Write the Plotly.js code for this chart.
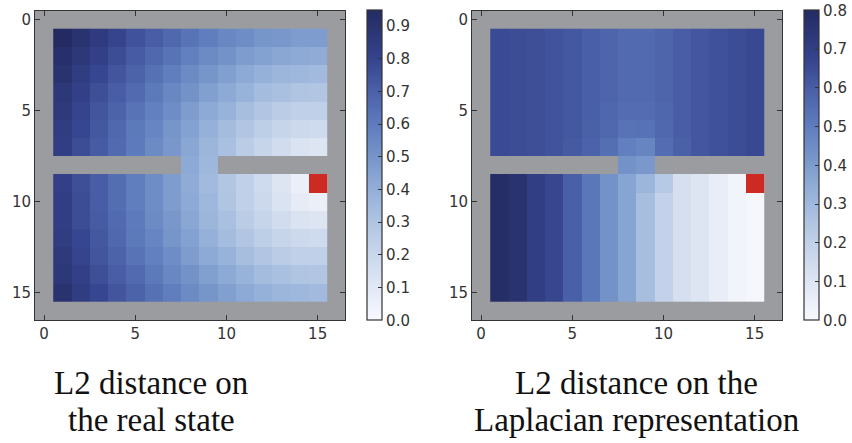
<!DOCTYPE html>
<html>
<head>
<meta charset="utf-8">
<script src="https://cdn.plot.ly/plotly-3.0.1.min.js"></script>
<style>html,body{margin:0;padding:0;background:#fff;}#chart{width:852px;height:443px;}</style>
</head>
<body>
<div id="chart"></div>
<script>
// grid coordinates of the interior cells (rows/cols 1..15); walls are null
const cols = [1,2,3,4,5,6,7,8,9,10,11,12,13,14,15];
const rows = [1,2,3,4,5,6,7,8,9,10,11,12,13,14,15];
const goal = [15, 9]; // [col, row]
const tickVals = [0,5,10,15];

// L2 distance on the real state
const realState = [
  [0.95,0.90,0.85,0.80,0.75,0.71,0.67,0.63,0.59,0.55,0.53,0.50,0.49,0.47,0.47],
  [0.92,0.87,0.82,0.77,0.72,0.67,0.63,0.58,0.54,0.51,0.47,0.45,0.43,0.42,0.41],
  [0.90,0.84,0.79,0.74,0.69,0.64,0.59,0.54,0.50,0.46,0.42,0.39,0.37,0.36,0.35],
  [0.87,0.82,0.76,0.71,0.66,0.61,0.55,0.51,0.46,0.42,0.38,0.34,0.32,0.30,0.29],
  [0.86,0.80,0.74,0.69,0.63,0.58,0.53,0.47,0.42,0.38,0.33,0.29,0.26,0.24,0.24],
  [0.84,0.79,0.73,0.67,0.61,0.56,0.50,0.45,0.39,0.34,0.29,0.25,0.21,0.19,0.18],
  [0.83,0.77,0.72,0.66,0.60,0.54,0.49,0.43,0.37,0.32,0.26,0.21,0.17,0.13,0.12],
  [null,null,null,null,null,null,null,0.42,0.36,null,null,null,null,null,null],
  [0.82,0.76,0.71,0.65,0.59,0.53,0.47,0.41,0.35,0.29,0.24,0.18,0.12,0.06,0.00],
  [0.83,0.77,0.71,0.65,0.59,0.53,0.47,0.42,0.36,0.30,0.24,0.19,0.13,0.08,0.06],
  [0.83,0.77,0.72,0.66,0.60,0.54,0.49,0.43,0.37,0.32,0.26,0.21,0.17,0.13,0.12],
  [0.84,0.79,0.73,0.67,0.61,0.56,0.50,0.45,0.39,0.34,0.29,0.25,0.21,0.19,0.18],
  [0.86,0.80,0.74,0.69,0.63,0.58,0.53,0.47,0.42,0.38,0.33,0.29,0.26,0.24,0.24],
  [0.87,0.82,0.76,0.71,0.66,0.61,0.55,0.51,0.46,0.42,0.38,0.34,0.32,0.30,0.29],
  [0.90,0.84,0.79,0.74,0.69,0.64,0.59,0.54,0.50,0.46,0.42,0.39,0.37,0.36,0.35]
];

// L2 distance on the Laplacian representation
const laplacian = [
  [0.655,0.65,0.64,0.63,0.615,0.595,0.575,0.56,0.56,0.575,0.60,0.62,0.635,0.65,0.66],
  [0.655,0.65,0.64,0.63,0.615,0.595,0.575,0.56,0.56,0.575,0.60,0.62,0.635,0.65,0.66],
  [0.655,0.65,0.64,0.63,0.615,0.595,0.575,0.56,0.56,0.575,0.60,0.62,0.635,0.65,0.66],
  [0.655,0.65,0.64,0.63,0.615,0.595,0.575,0.56,0.56,0.575,0.60,0.62,0.635,0.65,0.66],
  [0.655,0.65,0.64,0.63,0.615,0.595,0.57,0.55,0.55,0.57,0.60,0.62,0.635,0.65,0.66],
  [0.655,0.65,0.64,0.63,0.615,0.59,0.565,0.53,0.535,0.565,0.60,0.62,0.635,0.65,0.66],
  [0.655,0.65,0.64,0.63,0.61,0.585,0.545,0.49,0.475,0.55,0.59,0.62,0.635,0.65,0.66],
  [null,null,null,null,null,null,null,0.43,0.41,null,null,null,null,null,null],
  [0.785,0.76,0.705,0.665,0.595,0.52,0.43,0.37,0.31,0.23,0.13,0.10,0.06,0.025,0.00],
  [0.785,0.76,0.705,0.665,0.595,0.52,0.43,0.37,0.28,0.19,0.13,0.10,0.06,0.025,0.01],
  [0.785,0.76,0.705,0.665,0.595,0.52,0.43,0.37,0.28,0.19,0.13,0.10,0.06,0.025,0.01],
  [0.785,0.76,0.705,0.665,0.595,0.52,0.43,0.37,0.28,0.19,0.13,0.10,0.06,0.025,0.01],
  [0.785,0.76,0.705,0.665,0.595,0.52,0.43,0.37,0.28,0.19,0.13,0.10,0.06,0.025,0.01],
  [0.785,0.76,0.705,0.665,0.595,0.52,0.43,0.37,0.28,0.19,0.13,0.10,0.06,0.025,0.01],
  [0.785,0.76,0.705,0.665,0.595,0.52,0.43,0.37,0.28,0.19,0.13,0.10,0.06,0.025,0.01]
];

const captionLeft = ['L2 distance on', 'the real state'];
const captionRight = ['L2 distance on the', 'Laplacian representation'];

const blues = [
  [0,'#f7f9fe'],[0.1,'#e3e9f5'],[0.2,'#ccd9ed'],[0.32,'#afc4e2'],[0.42,'#93afd8'],
  [0.53,'#7594c9'],[0.63,'#5e7cbd'],[0.74,'#4a60a8'],[0.84,'#36448e'],[1,'#232b62']
];

// goal marker matrix built from goal position
const goalZ = rows.map(r => cols.map(c => (c === goal[0] && r === goal[1]) ? 1 : null));

const W = 852, H = 443;
const plotTop = 10.5, plotBot = 320;
const yDom = [1 - plotBot / H, 1 - plotTop / H];

function cbar(xpx, dt) {
  return {
    x: xpx / W, xanchor: 'left', xpad: 0,
    y: 1 - (plotTop + plotBot) / 2 / H, yanchor: 'middle', ypad: 0,
    len: (plotBot - plotTop) / H, lenmode: 'fraction',
    thickness: 15, thicknessmode: 'pixels',
    outlinewidth: 1.2, outlinecolor: '#333',
    ticks: 'inside', ticklen: 4, tickwidth: 1, tickcolor: '#333',
    tick0: 0, dtick: dt, tickformat: '.1f',
    tickfont: {family: 'DejaVu Sans', size: 15, color: '#333'}
  };
}

const traces = [
  {type: 'heatmap', x: cols, y: rows, z: realState, zmin: 0, zmax: 0.948,
   colorscale: blues, colorbar: cbar(367, 0.1), xaxis: 'x', yaxis: 'y', hoverongaps: false},
  {type: 'heatmap', x: cols, y: rows, z: goalZ, zmin: 0, zmax: 1, showscale: false,
   colorscale: [[0,'#cc2a22'],[1,'#cc2a22']], xaxis: 'x', yaxis: 'y', hoverongaps: false},
  {type: 'heatmap', x: cols, y: rows, z: laplacian, zmin: 0, zmax: 0.8,
   colorscale: blues, colorbar: cbar(804, 0.1), xaxis: 'x2', yaxis: 'y2', hoverongaps: false},
  {type: 'heatmap', x: cols, y: rows, z: goalZ, zmin: 0, zmax: 1, showscale: false,
   colorscale: [[0,'#cc2a22'],[1,'#cc2a22']], xaxis: 'x2', yaxis: 'y2', hoverongaps: false}
];

function ax(dom, anchor, range) {
  return {
    domain: dom, anchor: anchor, range: range, tickvals: tickVals,
    ticks: 'inside', ticklen: 5, tickcolor: '#333', tickwidth: 1,
    showline: true, linecolor: '#333', linewidth: 1, mirror: 'ticks',
    showgrid: false, zeroline: false,
    tickfont: {family: 'DejaVu Sans', size: 15, color: '#333'}
  };
}

function caption(lines, xc) {
  const ys = [383, 420];
  return lines.map((t, i) => ({
    text: t, x: xc / W, y: 1 - ys[i] / H, xref: 'paper', yref: 'paper',
    xanchor: 'center', yanchor: 'middle', showarrow: false,
    font: {family: 'Liberation Serif', size: 33, color: '#111'}
  }));
}

const layout = {
  width: W, height: H,
  margin: {l: 0, r: 0, t: 0, b: 0},
  paper_bgcolor: '#ffffff',
  plot_bgcolor: '#9b9c9f',
  showlegend: false,
  xaxis: ax([35 / W, 345 / W], 'y', [-0.5, 16.5]),
  yaxis: ax(yDom, 'x', [16.5, -0.5]),
  xaxis2: ax([472 / W, 782 / W], 'y2', [-0.5, 16.5]),
  yaxis2: ax(yDom, 'x2', [16.5, -0.5]),
  annotations: caption(captionLeft, 151).concat(caption(captionRight, 636))
};

Plotly.newPlot('chart', traces, layout, {displayModeBar: false, staticPlot: true});
</script>
</body>
</html>
